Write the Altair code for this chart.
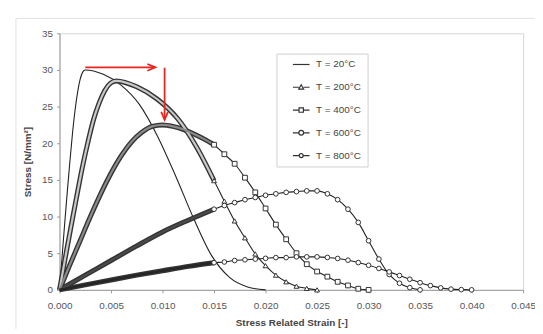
import altair as alt
import pandas as pd

series_names = ["T = 20°C", "T = 200°C", "T = 400°C", "T = 600°C", "T = 800°C"]

t20_strain = [0, 0.00025, 0.0005, 0.00075, 0.001, 0.00125, 0.0015, 0.00175, 0.002, 0.00225, 0.0025,
              0.00425, 0.006, 0.00775, 0.0095, 0.01125, 0.013, 0.01475, 0.0165, 0.01825, 0.02]
t20_stress = [0, 4.5, 9.0, 13.3, 17.4, 21.2, 24.4, 26.9, 28.7, 29.7, 30.0,
              29.4, 27.9, 25.3, 21.0, 15.6, 9.8, 4.7, 1.7, 0.4, 0.0]

t200_strain = [0, 0.00055, 0.0011, 0.00165, 0.0022, 0.00275, 0.0033, 0.00385, 0.0044, 0.00495, 0.0055,
               0.0075, 0.0095, 0.0115, 0.0133, 0.015, 0.016, 0.017, 0.018, 0.019, 0.020,
               0.021, 0.022, 0.023, 0.024, 0.025]
t200_stress = [0, 4.3, 8.5, 12.6, 16.6, 20.1, 23.2, 25.5, 27.2, 28.2, 28.5,
               27.7, 26.0, 23.3, 19.5, 14.9, 12.1, 9.4, 7.1, 4.9, 3.3,
               2.0, 1.1, 0.5, 0.2, 0.0]

t400_strain = [0, 0.001, 0.002, 0.003, 0.004, 0.005, 0.006, 0.007, 0.008, 0.009, 0.010,
               0.011, 0.012, 0.013, 0.014, 0.015, 0.016, 0.017, 0.018, 0.019, 0.020,
               0.021, 0.022, 0.023, 0.024, 0.025, 0.026, 0.027, 0.028, 0.029, 0.030]
t400_stress = [0, 3.4, 6.7, 10.0, 13.1, 15.9, 18.3, 20.2, 21.5, 22.3, 22.5,
               22.3, 21.9, 21.3, 20.6, 19.8, 18.5, 17.2, 15.3, 13.3, 11.1,
               8.9, 6.9, 5.0, 3.5, 2.5, 1.8, 1.1, 0.6, 0.15, 0.0]

t600_strain = [0, 0.0025, 0.005, 0.0075, 0.010, 0.0125, 0.015, 0.016, 0.017, 0.018, 0.019, 0.020,
               0.021, 0.022, 0.023, 0.024, 0.025, 0.026, 0.027, 0.028, 0.029, 0.030,
               0.031, 0.032, 0.033, 0.034, 0.035]
t600_stress = [0, 2.0, 4.0, 6.0, 7.9, 9.5, 11.0, 11.5, 11.9, 12.3, 12.6, 12.9,
               13.1, 13.3, 13.4, 13.5, 13.5, 13.1, 12.3, 11.0, 9.2, 6.7,
               4.2, 2.1, 0.9, 0.3, 0.0]

t800_strain = [0, 0.0025, 0.005, 0.0075, 0.010, 0.0125, 0.015, 0.016, 0.017, 0.018, 0.019, 0.020,
               0.021, 0.022, 0.023, 0.024, 0.025, 0.026, 0.027, 0.028, 0.029, 0.030,
               0.031, 0.032, 0.033, 0.034, 0.035, 0.036, 0.037, 0.038, 0.039, 0.040]
t800_stress = [0, 0.67, 1.34, 2.0, 2.6, 3.2, 3.7, 3.8, 4.0, 4.1, 4.2, 4.3,
               4.4, 4.4, 4.5, 4.5, 4.5, 4.42, 4.28, 4.05, 3.72, 3.35,
               2.92, 2.45, 1.95, 1.45, 0.98, 0.58, 0.27, 0.1, 0.03, 0.0]

# red annotation arrows (start -> tip), in data units
arrow_x_start = [0.0025, 0.0102]
arrow_y_start = [30.35, 30.3]
arrow_x_end = [0.0093, 0.0102]
arrow_y_end = [30.35, 23.2]
arrow_dir = ["right", "down"]

x_ticks = [0, 0.005, 0.010, 0.015, 0.020, 0.025, 0.030, 0.035, 0.040, 0.045]
y_ticks = [0, 5, 10, 15, 20, 25, 30, 35]

strains = [t20_strain, t200_strain, t400_strain, t600_strain, t800_strain]
stresses = [t20_stress, t200_stress, t400_stress, t600_stress, t800_stress]

rows = []
for name, xs, ys in zip(series_names, strains, stresses):
    for i, (sx, sy) in enumerate(zip(xs, ys)):
        rows.append({"series": name, "strain": sx, "stress": sy, "idx": i})
df = pd.DataFrame(rows)
marked = df["series"] != series_names[0]
df_dense = df[marked & (df["strain"] <= 0.01501)]
df_marks = df[marked & (df["strain"] >= 0.01499)]

arrows = pd.DataFrame({"x0": arrow_x_start, "y0": arrow_y_start,
                       "x1": arrow_x_end, "y1": arrow_y_end, "dir": arrow_dir})

FONT = "Liberation Sans"
RED = "#e8261e"

x_scale = alt.Scale(domain=[0, 0.045], nice=False, zero=False)
y_scale = alt.Scale(domain=[0, 35], nice=False)
x_axis = alt.Axis(values=x_ticks, format=".3f", title="Stress Related Strain [-]",
                  grid=False, tickSize=3, labelPadding=8, titlePadding=7,
                  labelFlush=False, labelOverlap=False)
y_axis = alt.Axis(values=y_ticks, title="Stress [N/mm²]", grid=False,
                  tickSize=3, labelPadding=4, titlePadding=9,
                  labelFlush=False, labelOverlap=False)


def X(field):
    return alt.X(field, scale=x_scale, axis=x_axis, title="Stress Related Strain [-]")


def Y(field):
    return alt.Y(field, scale=y_scale, axis=y_axis, title="Stress [N/mm²]")


base_line = alt.Chart(df).mark_line(interpolate="monotone", color="#222", strokeWidth=1.1).encode(
    x=X("strain:Q"), y=Y("stress:Q"), detail="series:N", order="idx:Q")

band_outer = alt.Chart(df_dense).mark_line(interpolate="monotone", color="#333", strokeWidth=5).encode(
    x=X("strain:Q"), y=Y("stress:Q"), detail="series:N", order="idx:Q")

band_inner = alt.Chart(df_dense).mark_line(interpolate="monotone", strokeWidth=2.2).encode(
    x=X("strain:Q"), y=Y("stress:Q"), order="idx:Q",
    color=alt.Color("series:N", legend=None,
                    scale=alt.Scale(domain=series_names[1:], range=["#c8c8c8", "#8a8a8a", "#4a4a4a", "#262626"])))

markers = alt.Chart(df_marks).mark_point(filled=True, fill="white", stroke="#333", strokeWidth=1, opacity=1).encode(
    x=X("strain:Q"), y=Y("stress:Q"),
    shape=alt.Shape("series:N", legend=None,
                    scale=alt.Scale(domain=series_names[1:], range=["triangle-up", "square", "circle", "circle"])),
    size=alt.Size("series:N", legend=None,
                  scale=alt.Scale(domain=series_names[1:], range=[24, 22, 24, 16])))

legend_paths = [
    "M1.4,0H5.6",
    "M1.4,0H2.9M4.1,0H5.6M3.5,-0.65L4.12,0.45L2.88,0.45Z",
    "M1.4,0H2.95M4.05,0H5.6M2.95,-0.55H4.05V0.55H2.95Z",
    "M1.4,0H2.9M4.1,0H5.6M2.9,0A0.6,0.6,0,1,0,4.1,0A0.6,0.6,0,1,0,2.9,0Z",
    "M1.4,0H3.0M4.0,0H5.6M3.0,0A0.5,0.5,0,1,0,4.0,0A0.5,0.5,0,1,0,3.0,0Z",
]

legend_layer = alt.Chart(df).mark_point(opacity=0, color="#333", filled=False).encode(
    x=X("strain:Q"), y=Y("stress:Q"),
    shape=alt.Shape("series:N",
                    scale=alt.Scale(domain=series_names, range=legend_paths),
                    legend=alt.Legend(title=None, orient="none", legendX=219, legendY=20.5,
                                      symbolSize=64, symbolOpacity=1, symbolStrokeColor="#333",
                                      symbolStrokeWidth=1.2, symbolFillColor="white",
                                      labelFontSize=10, labelColor="#444", labelFont=FONT,
                                      labelExpr="datum.label + '\u00a0\u00a0\u00a0'",
                                      padding=6, rowPadding=13, labelOffset=24,
                                      strokeColor="#cfcfcf", fillColor="white")))

arrow_shafts = alt.Chart(arrows).mark_rule(color=RED, strokeWidth=1.8).encode(
    x=X("x0:Q"), x2="x1:Q", y=Y("y0:Q"), y2="y1:Q")

arrow_heads = alt.Chart(arrows).mark_point(filled=False, color=RED, strokeWidth=1.8, opacity=1, size=64).encode(
    x=X("x1:Q"), y=Y("y1:Q"),
    shape=alt.Shape("dir:N", legend=None,
                    scale=alt.Scale(domain=["right", "down"],
                                    range=["M-2,-0.85L0,0L-2,0.85", "M-0.85,-2L0,0L0.85,-2"])))

frame_df = pd.DataFrame({"k": [0]})
frame_left = alt.Chart(frame_df).mark_rule(color="#e2e2e2", strokeWidth=1).encode(
    x=alt.value(-44), y=alt.value(-15), y2=alt.value(320))
frame_top = alt.Chart(frame_df).mark_rule(color="#e2e2e2", strokeWidth=1).encode(
    x=alt.value(-44), x2=alt.value(500), y=alt.value(-15))

chart = alt.layer(
    frame_left, frame_top, base_line, band_outer, band_inner, markers, legend_layer,
    arrow_shafts, arrow_heads
).resolve_scale(
    shape="independent", color="independent", size="independent"
).properties(
    width=468, height=259,
    autosize=alt.AutoSizeParams(type="none"),
    padding={"left": 52, "top": 24, "right": 12, "bottom": 38},
).configure_view(
    stroke="#d6d6d6", strokeWidth=1
).configure_axis(
    labelFont=FONT, titleFont=FONT, labelFontSize=10, titleFontSize=10,
    labelColor="#555", titleColor="#444", titleFontWeight="bold",
    domainColor="#9a9a9a", tickColor="#9a9a9a"
)

chart.save("out.html", embed_options={"renderer": "svg", "actions": False})
